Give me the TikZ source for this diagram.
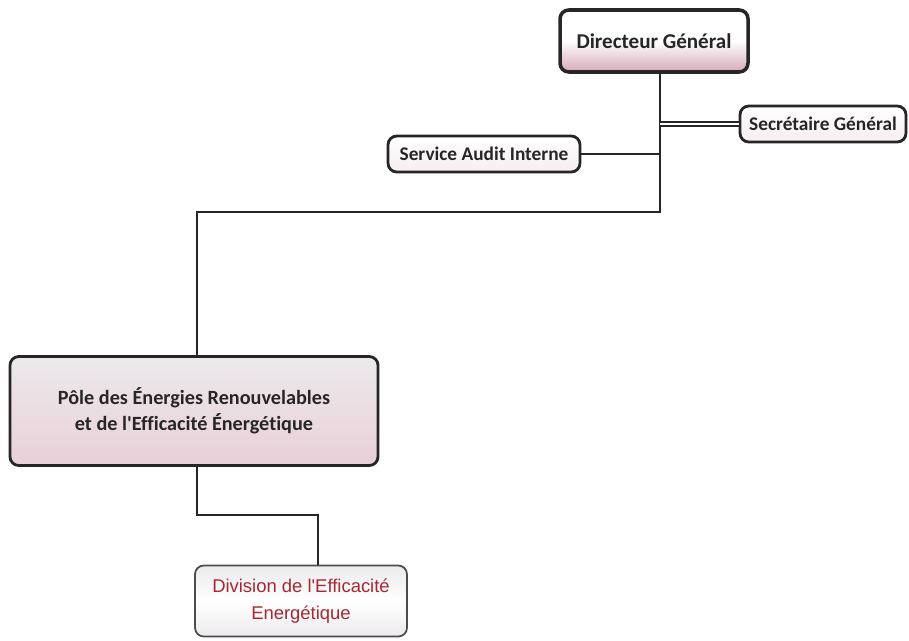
\documentclass[tikz,border=0pt]{standalone}
\usepackage{fontspec}
\setmainfont{Carlito}[Ligatures=NoCommon]
\newfontfamily\arialfont{Liberation Sans}
\usepackage{xcolor}
\usetikzlibrary{calc}
\definecolor{pinkband}{RGB}{214,168,184}
\definecolor{greyfill}{RGB}{236,234,236}
\definecolor{divred}{RGB}{165,40,52}

\begin{document}
\begin{tikzpicture}[x=0.02cm,y=-0.02cm,
  box/.style={draw=black!85,line width=1.6pt,rounded corners=5pt,align=center,
    top color=white,bottom color=pinkband,middle color=white,inner sep=0pt,
    font=\bfseries\fontsize{11}{13}\selectfont,text=black!85},
  link/.style={draw=black!85,line width=1.3pt}]
\useasboundingbox (0,0) rectangle (909,640);

\node[box,minimum width=188*0.02cm,minimum height=62*0.02cm,
  line width=2pt,font=\bfseries\fontsize{12}{14}\selectfont] (dg) at (654,41) {Directeur Général};
\node[box,minimum width=166*0.02cm,minimum height=36*0.02cm,
  bottom color=white!80!pinkband] (sg) at (823,124) {Secrétaire Général};
\node[box,minimum width=192*0.02cm,minimum height=36*0.02cm,
  bottom color=white!80!pinkband] (sai) at (484,154) {Service Audit Interne};
\node[box,minimum width=368*0.02cm,minimum height=109*0.02cm,
  top color=greyfill,middle color=greyfill!40,bottom color=pinkband!55,
  font=\bfseries\fontsize{11.5}{15}\selectfont] (pole) at (194,411)
  {Pôle des Énergies Renouvelables\\ et de l\textquotesingle Efficacité Énergétique};
\node[box,minimum width=212*0.02cm,minimum height=71*0.02cm,line width=1pt,
  draw=black!70,top color=greyfill,bottom color=greyfill,middle color=white,
  font=\arialfont\fontsize{10.5}{15}\selectfont,text=divred] (div) at (301,601)
  {Division de l\textquotesingle Efficacité\\ Energétique};

\coordinate (j1) at (660,124);
\coordinate (j2) at (660,154);
\coordinate (j3) at (660,212);
\coordinate (j4) at (197,212);
\coordinate (j5) at (197,515);
\coordinate (j6) at (318,515);

\draw[link] (dg.south-|j1)--(j1)--(j2)--(j3)--(j4)--(j4|-pole.north);
\draw[link,double,double distance=1.5pt,line width=0.8pt] (j1)--(sg.west);
\draw[link] (sai.east)--(j2);
\draw[link] (j5|-pole.south)--(j5)--(j6)--(j6|-div.north);
\end{tikzpicture}
\end{document}
